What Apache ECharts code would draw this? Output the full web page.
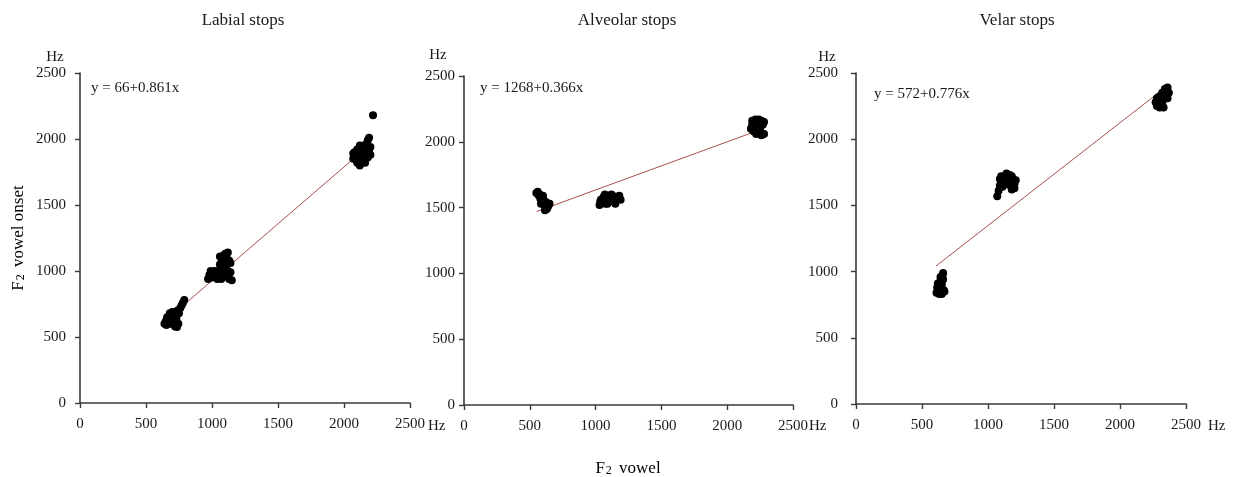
<!DOCTYPE html>
<html>
<head>
<meta charset="utf-8">
<script src="https://cdn.jsdelivr.net/npm/echarts@6/dist/echarts.min.js"></script>
<style>
  html, body { margin: 0; padding: 0; background: #ffffff; }
  #chart { width: 1238px; height: 477px; }
</style>
</head>
<body>
<div id="chart"></div>
<script>
// F2 vowel (x) against F2 at vowel onset (y), in Hz, per place of articulation
const panelTitles = ['Labial stops', 'Alveolar stops', 'Velar stops'];
const xTicks = [0, 500, 1000, 1500, 2000, 2500];
const yTicks = [0, 500, 1000, 1500, 2000, 2500];

// regression: y = intercept + slope * x
const intercepts = [66, 1268, 572];
const slopes = [0.861, 0.366, 0.776];
const equationLabels = ['y = 66+0.861x', 'y = 1268+0.366x', 'y = 572+0.776x'];
// x extent over which each regression line is drawn
const lineFrom = [640, 552, 606];
const lineTo = [2150, 2200, 2330];

const labialPoints = [
  // /u/ context
  [640, 600], [650, 620], [660, 610], [670, 640], [680, 600], [690, 650], [700, 630],
  [710, 660], [720, 580], [730, 600], [720, 690], [740, 700], [750, 680], [760, 720],
  [770, 740], [780, 760], [790, 780], [700, 690], [660, 650], [730, 640], [745, 600],
  [680, 680], [655, 590], [700, 600], [735, 575],
  // /o/ context
  [970, 940], [980, 970], [990, 1000], [1000, 950], [1010, 980], [1020, 1000], [1030, 960],
  [1040, 940], [1050, 1000], [1060, 1050], [1060, 1110], [1070, 940], [1080, 1000],
  [1080, 1080], [1090, 1120], [1100, 960], [1100, 1040], [1110, 1100], [1120, 1140],
  [1120, 1000], [1130, 940], [1140, 1060], [1150, 930], [1130, 1080], [1090, 970],
  [1070, 1060], [1110, 1010], [1140, 990], [1100, 1130],
  // /i/ context
  [2070, 1850], [2080, 1900], [2090, 1880], [2100, 1820], [2110, 1860], [2120, 1800],
  [2130, 1900], [2140, 1840], [2150, 1880], [2160, 1920], [2170, 1960], [2180, 1990],
  [2190, 2010], [2200, 1940], [2180, 1860], [2160, 1820], [2200, 1880], [2150, 1950],
  [2100, 1920], [2120, 1950], [2190, 1920], [2070, 1890], [2130, 1850], [2220, 2180]
];

const alveolarPoints = [
  // /u/ context
  [550, 1610], [560, 1620], [570, 1590], [575, 1600], [580, 1570], [590, 1580],
  [590, 1550], [600, 1540], [605, 1560], [610, 1520], [620, 1500], [625, 1540],
  [630, 1490], [640, 1510], [650, 1530], [615, 1480], [585, 1530], [600, 1590],
  [565, 1600], [635, 1525],
  // /o/ context
  [1030, 1520], [1040, 1560], [1050, 1540], [1060, 1580], [1070, 1600], [1080, 1560],
  [1090, 1530], [1100, 1590], [1110, 1570], [1120, 1550], [1130, 1590], [1140, 1560],
  [1150, 1530], [1160, 1580], [1170, 1570], [1180, 1590], [1190, 1560], [1075, 1530],
  [1120, 1600], [1035, 1545],
  // /i/ context
  [2180, 2100], [2190, 2130], [2200, 2080], [2200, 2150], [2210, 2110], [2220, 2060],
  [2230, 2140], [2240, 2170], [2250, 2100], [2260, 2050], [2260, 2160], [2270, 2130],
  [2280, 2060], [2280, 2150], [2215, 2170], [2245, 2080], [2190, 2160], [2235, 2110]
];

const velarPoints = [
  // /u/ context
  [610, 840], [620, 870], [625, 900], [630, 850], [635, 920], [640, 880], [645, 950],
  [650, 830], [650, 900], [655, 970], [660, 940], [665, 860], [660, 990], [640, 960],
  [620, 910], [670, 850], [630, 830], [615, 880],
  // /o/ context
  [1070, 1570], [1080, 1610], [1090, 1650], [1090, 1700], [1100, 1680], [1110, 1640],
  [1120, 1670], [1130, 1700], [1140, 1740], [1150, 1710], [1160, 1680], [1170, 1650],
  [1180, 1720], [1190, 1700], [1200, 1660], [1210, 1690], [1200, 1630], [1180, 1620],
  [1150, 1660], [1100, 1720], [1165, 1730],
  // /i/ context
  [2270, 2280], [2280, 2250], [2280, 2310], [2290, 2270], [2300, 2300], [2300, 2240],
  [2310, 2330], [2310, 2270], [2320, 2260], [2320, 2350], [2330, 2300], [2340, 2380],
  [2340, 2330], [2350, 2360], [2360, 2310], [2360, 2390], [2370, 2350], [2330, 2240],
  [2295, 2320]
];

const panelPoints = [labialPoints, alveolarPoints, velarPoints];

// layout of the three plotting areas (pixels)
const grids = [
  { left: 80, top: 73, width: 330, height: 330 },
  { left: 464, top: 76, width: 329, height: 329 },
  { left: 856, top: 73, width: 330, height: 331 }
];
const yLabelMargins = [14, 9, 18];

const serif = '"Liberation Serif", "Times New Roman", serif';
const axisColor = '#3a3a3a';
const textColor = '#1a1a1a';
const plainNumber = v => String(v);

const xAxes = grids.map((g, i) => ({
  type: 'value', gridIndex: i, min: 0, max: 2500, interval: 500,
  axisLine: { show: true, onZero: false, lineStyle: { color: axisColor, width: 1.6 } },
  axisTick: { show: true, length: 5, lineStyle: { color: axisColor, width: 1.4 } },
  axisLabel: {
    margin: 14, color: textColor, fontFamily: serif, fontSize: 15,
    customValues: xTicks, formatter: plainNumber
  },
  splitLine: { show: false }
}));

const yAxes = grids.map((g, i) => ({
  type: 'value', gridIndex: i, min: 0, max: 2500, interval: 500,
  axisLine: { show: true, onZero: false, lineStyle: { color: axisColor, width: 1.6 } },
  axisTick: { show: true, length: 5, lineStyle: { color: axisColor, width: 1.4 } },
  axisLabel: {
    margin: yLabelMargins[i], color: textColor, fontFamily: serif, fontSize: 15,
    customValues: yTicks, formatter: plainNumber
  },
  splitLine: { show: false }
}));

const series = [];
panelPoints.forEach((pts, i) => {
  const x0 = lineFrom[i], x1 = lineTo[i];
  series.push({
    type: 'line', xAxisIndex: i, yAxisIndex: i, z: 1,
    data: [[x0, intercepts[i] + slopes[i] * x0], [x1, intercepts[i] + slopes[i] * x1]],
    symbol: 'none', silent: true,
    lineStyle: { color: '#a8504c', width: 1 }
  });
  series.push({
    type: 'scatter', xAxisIndex: i, yAxisIndex: i, z: 3,
    data: pts, symbol: 'circle', symbolSize: 8,
    itemStyle: { color: '#000000', opacity: 1 },
    emphasis: { disabled: true }
  });
});

// free-standing text: units, equations, axis names
const titleCenters = [243, 627, 1017];
const eqPos = [[91, 88], [480, 88], [874, 94]];
const yUnitPos = [[55, 57], [438, 55], [827, 57]];
const xUnitPos = [[428, 426], [809, 426], [1208, 426]];

const graphics = [];
panelTitles.forEach((t, i) => {
  graphics.push({
    type: 'text', x: titleCenters[i], y: 21,
    style: { text: t, fill: textColor, font: '17px ' + serif, textAlign: 'center', textVerticalAlign: 'middle' }
  });
  graphics.push({
    type: 'text', x: eqPos[i][0], y: eqPos[i][1],
    style: { text: equationLabels[i], fill: textColor, font: '15px ' + serif, textAlign: 'left', textVerticalAlign: 'middle' }
  });
  graphics.push({
    type: 'text', x: yUnitPos[i][0], y: yUnitPos[i][1],
    style: { text: 'Hz', fill: textColor, font: '15px ' + serif, textAlign: 'center', textVerticalAlign: 'middle' }
  });
  graphics.push({
    type: 'text', x: xUnitPos[i][0], y: xUnitPos[i][1],
    style: { text: 'Hz', fill: textColor, font: '15px ' + serif, textAlign: 'left', textVerticalAlign: 'middle' }
  });
});

const subRich = {
  a: { fontFamily: serif, fontSize: 17, color: '#2a2a2a', lineHeight: 22, verticalAlign: 'bottom' },
  s: { fontFamily: serif, fontSize: 12, color: '#2a2a2a', lineHeight: 22, verticalAlign: 'bottom', padding: [0, 3, 0, 1] }
};

graphics.push({
  type: 'text', x: 628, y: 466,
  style: { text: '{a|F}{s|2}{a| vowel}', rich: subRich, textAlign: 'center', textVerticalAlign: 'middle' }
});
graphics.push({
  type: 'text', x: 16, y: 238, rotation: Math.PI / 2,
  style: { text: '{a|F}{s|2}{a| vowel onset}', rich: subRich, textAlign: 'center', textVerticalAlign: 'middle' }
});

const chart = echarts.init(document.getElementById('chart'), null, { renderer: 'canvas' });
chart.setOption({
  backgroundColor: '#ffffff',
  animation: false,
  grid: grids.map(g => Object.assign({ containLabel: false }, g)),
  xAxis: xAxes,
  yAxis: yAxes,
  series: series,
  graphic: graphics
});
</script>
</body>
</html>
